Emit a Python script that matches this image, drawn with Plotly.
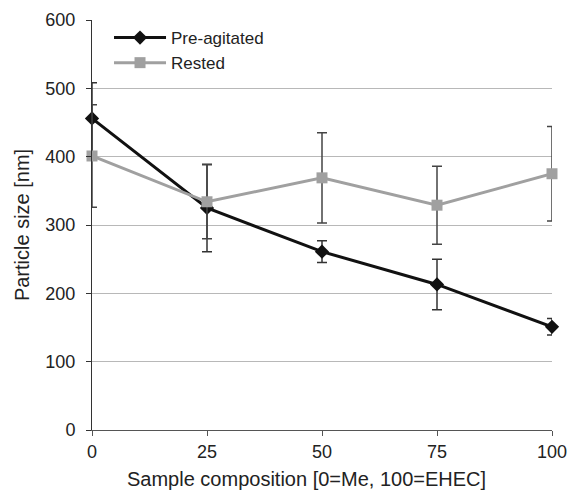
import plotly.graph_objects as go

composition = [0, 25, 50, 75, 100]
pre_agitated = [456, 325, 261, 213, 151]
pre_agitated_err = [52, 64, 16, 37, 12]
rested = [401, 334, 369, 329, 375]
rested_err = [75, 54, 66, 57, 69]
x_ticks = [0, 25, 50, 75, 100]
y_ticks = [0, 100, 200, 300, 400, 500, 600]

fig = go.Figure()
fig.add_trace(go.Scatter(
    x=composition, y=pre_agitated, name="Pre-agitated", mode="lines+markers",
    line=dict(color="#111111", width=3),
    marker=dict(symbol="diamond", size=11, color="#111111"),
    error_y=dict(type="data", array=pre_agitated_err, visible=True,
                 color="#333333", thickness=1.5, width=5),
    cliponaxis=False,
))
fig.add_trace(go.Scatter(
    x=composition, y=rested, name="Rested", mode="lines+markers",
    line=dict(color="#a0a0a0", width=3),
    marker=dict(symbol="square", size=11, color="#a0a0a0"),
    error_y=dict(type="data", array=rested_err, visible=True,
                 color="#444444", thickness=1.5, width=5),
    cliponaxis=False,
))

fig.update_layout(
    width=568, height=492,
    margin=dict(l=92, r=16, t=20, b=62, autoexpand=False),
    paper_bgcolor="white", plot_bgcolor="white",
    font=dict(family="Liberation Sans, Arial, sans-serif", size=18, color="#222222"),
    showlegend=True,
    legend=dict(x=0.037, y=1.0, xanchor="left", yanchor="top",
                bgcolor="rgba(0,0,0,0)", font=dict(size=17),
                itemwidth=52, tracegroupgap=0),
    xaxis=dict(
        range=[0, 100], tickvals=x_ticks, ticktext=[str(t) for t in x_ticks],
        automargin=False,
        showgrid=False, zeroline=False,
        showline=True, linecolor="#555555", linewidth=1,
        ticks="outside", ticklen=5, tickcolor="#555555",
    ),
    yaxis=dict(
        range=[0, 600], tickvals=y_ticks, automargin=False,
        showgrid=True, gridcolor="#b8b8b8", gridwidth=1, zeroline=False,
        showline=True, linecolor="#333333", linewidth=1,
        ticks="outside", ticklen=5, tickcolor="#333333",
        ticklabelstandoff=7,
        title=dict(text="Particle size [nm]", font=dict(size=20), standoff=10),
    ),
    annotations=[dict(
        text="Sample composition [0=Me, 100=EHEC]", xref="paper", yref="paper",
        x=0.467, y=0, yshift=-49, xanchor="center", yanchor="middle",
        showarrow=False, font=dict(size=20),
    )],
)

fig.write_html("out.html")
